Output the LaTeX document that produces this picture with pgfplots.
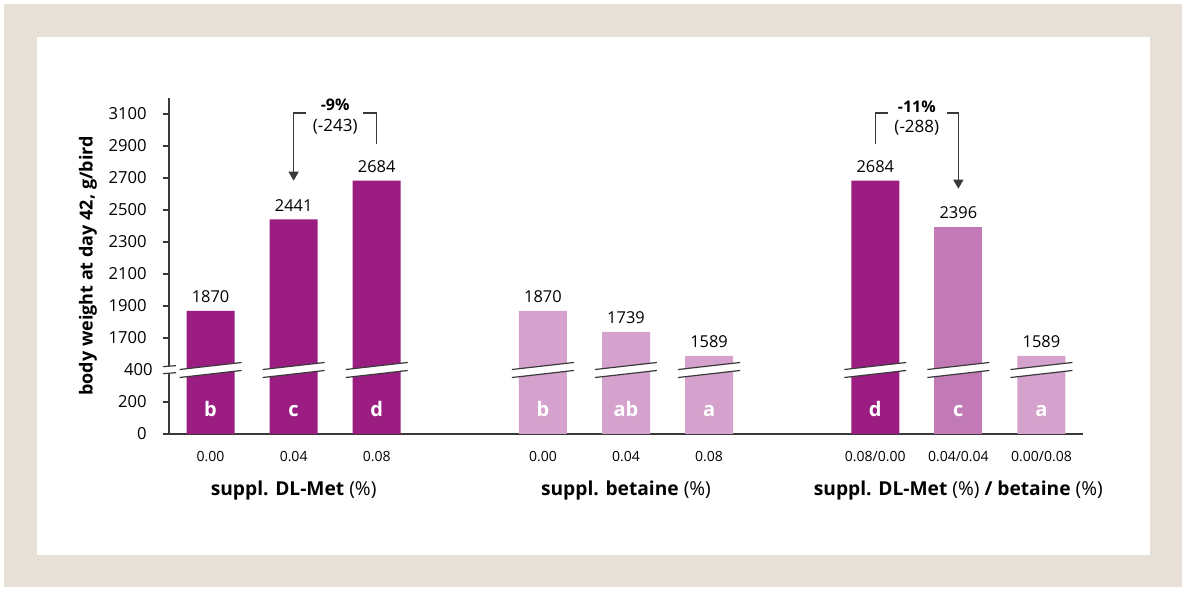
\documentclass[border=0pt]{standalone}
\usepackage{fontspec}
\setmainfont{Open Sans}
\usepackage{pgfplots}
\usepackage{pgfplotstable}
\pgfplotsset{compat=1.18}
\usetikzlibrary{arrows.meta}

\definecolor{darkp}{HTML}{9B1D82}
\definecolor{midp}{HTML}{C27AB6}
\definecolor{lightp}{HTML}{D4A2CC}
\definecolor{frame}{HTML}{E6E0D7}
\definecolor{axisgray}{HTML}{3A3A3A}

% displayed height = weight - 1100 above the axis break
\pgfplotstableread{
x val letter
0 1870 b
1 2441 c
2 2684 d
8 2684 d
}\darkbars
\pgfplotstableread{
x val letter
9 2396 c
}\midbars
\pgfplotstableread{
x val letter
4 1870 b
5 1739 ab
6 1589 a
10 1589 a
}\lightbars

\pgfplotsset{
  valbar/.style={ybar, bar width=24pt, bar shift=0pt, fill=#1, draw=none,
    nodes near coords, point meta=explicit symbolic,
    every node near coord/.append style={font=\fontsize{8.2pt}{9pt}\selectfont, inner sep=4pt, text=black}},
  letters/.style={draw=none, mark=none, nodes near coords, point meta=explicit symbolic,
    every node near coord/.append style={font=\bfseries\fontsize{10pt}{11pt}\selectfont, text=white, inner sep=0pt, anchor=south}},
}

\begin{document}
\begin{tikzpicture}
\fill[white] (0,0) rectangle (600pt,297pt);
\fill[frame] (2pt,3.5pt) rectangle (591pt,295pt);
\fill[white] (18.5pt,19.5pt) rectangle (575pt,278.5pt);

\begin{axis}[
    at={(84.5pt,80pt)}, anchor=south west,
    scale only axis, width=457pt, height=168pt,
    xmin=-0.5, xmax=10.5, ymin=0, ymax=2100,
    axis lines*=left,
    y axis line style={draw=none},
    x axis line style={draw=axisgray, line width=0.8pt},
    clip=false,
    /pgf/number format/assume math mode=true,
    xtick={0,1,2,4,5,6,8,9,10},
    xticklabels={0.00,0.04,0.08,0.00,0.04,0.08,0.08/0.00,0.04/0.04,0.00/0.08},
    xtick style={draw=none},
    xticklabel style={font=\fontsize{7pt}{8pt}\selectfont, inner sep=0pt, yshift=-5.5pt},
    ytick={0,200,600,800,1000,1200,1400,1600,1800,2000},
    yticklabels={0,200,1700,1900,2100,2300,2500,2700,2900,3100},
    extra y ticks={400}, extra y tick labels={400},
    extra y tick style={major tick length=0pt},
    tick align=outside, major tick length=3pt,
    ytick style={draw=axisgray, line width=0.7pt},
    yticklabel style={font=\fontsize{8.3pt}{9pt}\selectfont, inner sep=0pt, xshift=-8pt},
]
\addplot[valbar=darkp] table[x=x, y expr=\thisrow{val}-1100, meta=val] {\darkbars};
\addplot[valbar=midp] table[x=x, y expr=\thisrow{val}-1100, meta=val] {\midbars};
\addplot[valbar=lightp] table[x=x, y expr=\thisrow{val}-1100, meta=val] {\lightbars};

% letters inside the bars
\addplot[letters] table[x=x, y expr=106, meta=letter] {\darkbars};
\addplot[letters] table[x=x, y expr=106, meta=letter] {\midbars};
\addplot[letters] table[x=x, y expr=106, meta=letter] {\lightbars};

% axis breaks on the bars
\pgfplotsinvokeforeach{0,1,2,4,5,6,8,9,10}{
  \fill[white] (axis cs:#1-0.373,353) -- (axis cs:#1+0.373,397) -- (axis cs:#1+0.373,447) -- (axis cs:#1-0.373,403) -- cycle;
  \draw[axisgray, line width=0.6pt] (axis cs:#1-0.373,353) -- (axis cs:#1+0.373,397);
  \draw[axisgray, line width=0.6pt] (axis cs:#1-0.373,403) -- (axis cs:#1+0.373,447);
}

% y axis with break
\draw[axisgray, line width=0.8pt] (axis cs:-0.5,0) -- (axis cs:-0.5,380);
\draw[axisgray, line width=0.8pt] (axis cs:-0.5,424) -- (axis cs:-0.5,2100);
\draw[axisgray, line width=0.6pt] (axis cs:-0.572,377) -- (axis cs:-0.416,383);
\draw[axisgray, line width=0.6pt] (axis cs:-0.572,421) -- (axis cs:-0.416,427);

% y label
\node[rotate=90, font=\bfseries\fontsize{9pt}{10pt}\selectfont] at ([xshift=-40.5pt]axis cs:-0.5,1050) {body weight at day 42, g/bird};

% group labels
\node[anchor=base, font=\fontsize{9.6pt}{11pt}\selectfont] at (axis cs:1,-385) {\textbf{suppl. DL-Met} (\%)};
\node[anchor=base, font=\fontsize{9.6pt}{11pt}\selectfont] at (axis cs:5,-385) {\textbf{suppl. betaine} (\%)};
\node[anchor=base, font=\fontsize{9.6pt}{11pt}\selectfont] at (axis cs:9,-385) {\textbf{suppl. DL-Met} (\%) \textbf{/ betaine} (\%)};

% difference annotations
\draw[axisgray, line width=0.6pt, -{Triangle[length=4.5pt,width=5pt]}] (axis cs:1.15,2006) -- (axis cs:1,2006) -- (axis cs:1,1583);
\draw[axisgray, line width=0.6pt] (axis cs:1.84,2006) -- (axis cs:2,2006) -- (axis cs:2,1813);
\node[font=\bfseries\fontsize{8pt}{9pt}\selectfont] at (axis cs:1.5,2056) {-9\%};
\node[font=\fontsize{8.5pt}{9pt}\selectfont] at (axis cs:1.5,1919) {(-243)};

\draw[axisgray, line width=0.6pt] (axis cs:8,1813) -- (axis cs:8,2006) -- (axis cs:8.15,2006);
\draw[axisgray, line width=0.6pt, -{Triangle[length=4.5pt,width=5pt]}] (axis cs:8.86,2006) -- (axis cs:9,2006) -- (axis cs:9,1533);
\node[font=\bfseries\fontsize{8pt}{9pt}\selectfont] at (axis cs:8.5,2044) {-11\%};
\node[font=\fontsize{8.5pt}{9pt}\selectfont] at (axis cs:8.5,1913) {(-288)};
\end{axis}
\end{tikzpicture}
\end{document}
